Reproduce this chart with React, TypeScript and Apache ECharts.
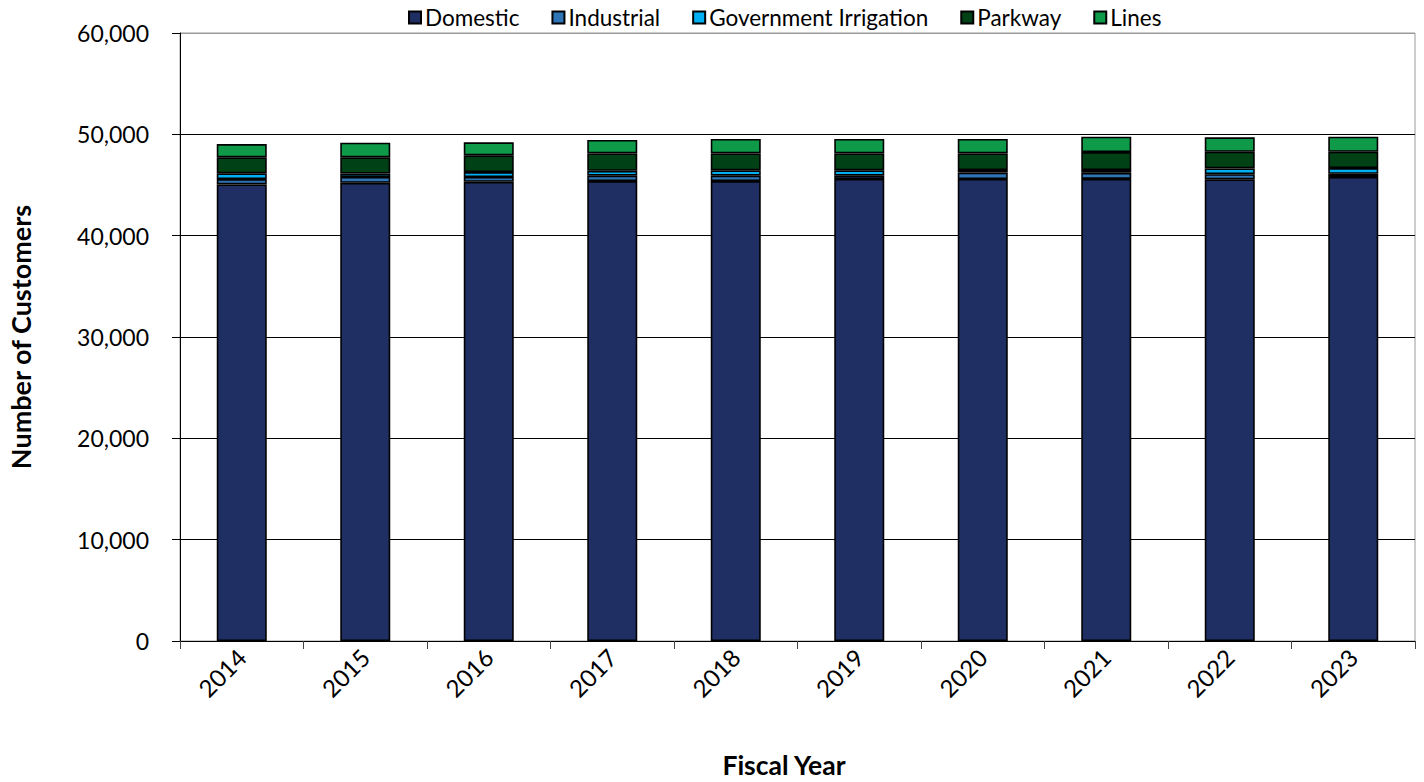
import React, { useEffect, useRef } from "react";
import * as echarts from "echarts";

const years = ["2014", "2015", "2016", "2017", "2018", "2019", "2020", "2021", "2022", "2023"];
const domestic = [45060, 45210, 45310, 45390, 45390, 45590, 45590, 45600, 45560, 45790];
const industrial = [520, 580, 480, 530, 530, 330, 640, 600, 510, 310];
const governmentIrrigation = [570, 340, 490, 480, 530, 530, 250, 280, 570, 570];
const parkway = [1580, 1600, 1650, 1720, 1670, 1670, 1640, 1770, 1640, 1610];
const lines = [1310, 1440, 1280, 1320, 1420, 1420, 1420, 1520, 1420, 1490];
const yTicks = [0, 10000, 20000, 30000, 40000, 50000, 60000];

const FONT = "Lato, 'Open Sans', sans-serif";

export default function App() {
  const ref = useRef<HTMLDivElement>(null);

  useEffect(() => {
    if (!ref.current) return;
    const chart = echarts.init(ref.current, undefined, { renderer: "svg" });

    const seriesDefs = [
      { name: "Domestic", data: domestic, color: "#1f2f63" },
      { name: "Industrial", data: industrial, color: "#2e75b6" },
      { name: "Government Irrigation", data: governmentIrrigation, color: "#00b0f0" },
      { name: "Parkway", data: parkway, color: "#004116" },
      { name: "Lines", data: lines, color: "#0f9a4a" },
    ];

    chart.setOption({
      animation: false,
      backgroundColor: "#ffffff",
      textStyle: { fontFamily: FONT },
      legend: {
        top: 1,
        left: 403,
        icon: "rect",
        itemWidth: 12,
        itemHeight: 12,
        itemGap: 32,
        textStyle: { fontSize: 22.5, color: "#000", fontFamily: FONT, padding: [0, 0, 0, -1] },
        data: seriesDefs.map((s) => s.name),
      },
      grid: {
        left: 180,
        top: 33,
        right: 9,
        bottom: 141,
        show: true,
        borderColor: "#9a9a9a",
        borderWidth: 1,
        containLabel: false,
      },
      xAxis: {
        type: "category",
        data: years,
        axisLine: { lineStyle: { color: "#000", width: 1 } },
        axisTick: { show: true, length: 8, lineStyle: { color: "#444" } },
        axisLabel: {
          rotate: 45,
          fontSize: 24,
          color: "#000",
          margin: 12,
          fontFamily: FONT,
        },
      },
      yAxis: {
        type: "value",
        min: yTicks[0],
        max: yTicks[yTicks.length - 1],
        interval: 10000,
        axisLine: { show: true, lineStyle: { color: "#000", width: 1 } },
        axisTick: { show: true, length: 8, lineStyle: { color: "#000" } },
        axisLabel: {
          fontSize: 23,
          color: "#000",
          margin: 31,
          fontFamily: FONT,
          formatter: (v: number) => v.toLocaleString("en-US"),
        },
        splitLine: {
          show: true,
          lineStyle: {
            color: ["#000", "#000", "#000", "#000", "#000", "#000", "#9a9a9a"],
            width: 1,
          },
        },
      },
      graphic: [
        {
          type: "text",
          x: 20,
          y: 337,
          rotation: Math.PI / 2,
          style: {
            text: "Number of Customers",
            fontSize: 27,
            fontWeight: "bold",
            fontFamily: FONT,
            fill: "#000",
            align: "center",
            verticalAlign: "middle",
          },
        },
        {
          type: "text",
          x: 784,
          y: 765,
          style: {
            text: "Fiscal Year",
            fontSize: 26.5,
            fontWeight: "bold",
            fontFamily: FONT,
            fill: "#000",
            align: "center",
            verticalAlign: "middle",
          },
        },
      ],
      series: seriesDefs.map((s) => ({
        name: s.name,
        type: "bar",
        stack: "total",
        barWidth: 50,
        data: s.data,
        itemStyle: { color: s.color, borderColor: "#000", borderWidth: 1.6 },
      })),
    });

    return () => chart.dispose();
  }, []);

  return (
    <div
      ref={ref}
      style={{ position: "fixed", left: 0, top: 0, width: 1424, height: 782 }}
    />
  );
}
